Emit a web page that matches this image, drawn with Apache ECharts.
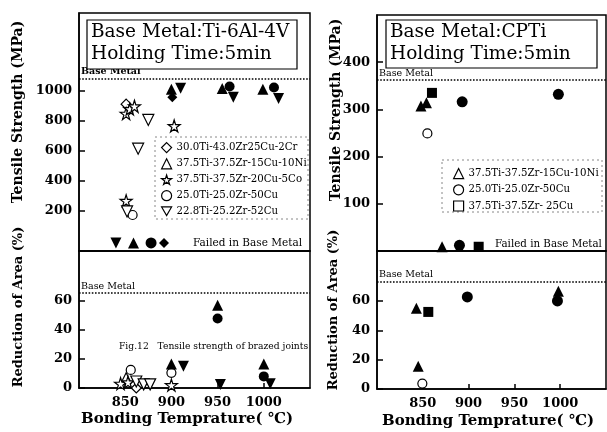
<!DOCTYPE html>
<html><head><meta charset="utf-8">
<script src="https://cdn.jsdelivr.net/npm/echarts@6/dist/echarts.min.js"></script>
<style>html,body{margin:0;padding:0;background:#fff}#c{width:607px;height:432px}</style>
</head><body><div id="c"></div>
<script>
// ---- tick labels ----
const xTicks = [850, 900, 950, 1000];
const tsTicksL = [200, 400, 600, 800, 1000];
const tsTicksR = [100, 200, 300, 400];
const raTicks = [0, 20, 40, 60];

// ---- legend names ----
const alloyCr = '30.0Ti-43.0Zr25Cu-2Cr';
const alloyNi = '37.5Ti-37.5Zr-15Cu-10Ni';
const alloyCo = '37.5Ti-37.5Zr-20Cu-5Co';
const alloyCu50 = '25.0Ti-25.0Zr-50Cu';
const alloyCu52 = '22.8Ti-25.2Zr-52Cu';
const alloyCu25 = '37.5Ti-37.5Zr- 25Cu';
const legendLeft = [alloyCr, alloyNi, alloyCo, alloyCu50, alloyCu52];
const legendRight = [alloyNi, alloyCu50, alloyCu25];

// ---- base metal levels ----
const baseTS_L = 1080, baseRA_L = 65.5, baseTS_R = 362, baseRA_R = 73;

// ---- Ti-6Al-4V: tensile strength (open = failed in joint) ----
const tsL_Cr = [[851, 912]];
const tsL_Ni = [];
const tsL_Co = [[851, 849], [855, 880], [860, 898], [903, 767], [851, 268]];
const tsL_Cu50 = [[858, 173]];
const tsL_Cu52 = [[875, 807], [864, 615], [852, 197]];
// filled = failed in base metal
const tsL_NiF = [[900, 1012], [955, 1016], [999, 1012]];
const tsL_Cu50F = [[963, 1030], [1011, 1023]];
const tsL_Cu52F = [[910, 1018], [967, 958], [1016, 950]];
const tsL_CrF = [[901, 958]];
// key row "Failed in Base Metal"
const keyL_tdown = [[840, -13]];
const keyL_tri = [[859, -13]];
const keyL_circ = [[878, -13]];
const keyL_diam = [[892, -13]];

// ---- Ti-6Al-4V: reduction of area ----
const raL_Cr = [[862, 0]];
const raL_Ni = [[851, 7]];
const raL_Co = [[845, 3], [853, 4], [900, 2]];
const raL_Cu50 = [[856, 12.5], [900, 10.5]];
const raL_Cu52 = [[862, 4.5], [870, 2.5], [877, 2.5]];
const raL_NiF = [[900, 16.5], [950, 57], [1000, 16.5]];
const raL_Cu50F = [[950, 48], [1000, 8]];
const raL_Cu52F = [[913, 15], [953, 2.5], [1007, 3]];

// ---- CPTi: tensile strength ----
const tsR_Cu50 = [[855, 249]];
const tsR_NiF = [[848, 307], [854, 314]];
const tsR_Cu50F = [[893, 316], [998, 332]];
const tsR_Cu25F = [[860, 335]];
const keyR_tri = [[871, 9]];
const keyR_circ = [[890, 12]];
const keyR_rect = [[911, 9]];

// ---- CPTi: reduction of area ----
const raR_Cu50 = [[849.5, 3.7]];
const raR_NiF = [[843, 55], [845, 15.5], [998, 66.5]];
const raR_Cu25F = [[856, 52.5]];
const raR_Cu50F = [[898.6, 62.7], [997, 60]];

const STAR = 'path://M50,0L61,35L98,35L68,57L79,91L50,70L21,91L32,57L2,35L39,35Z';
const TDOWN = 'path://M0,0L100,0L50,87Z';
const SERIF = '"DejaVu Serif", "Liberation Serif", serif';
const BSERIF = '"DejaVu Serif", serif';

function mk(name, symbol, open, data, gi, size) {
  return {
    type: 'scatter', name: name, xAxisIndex: gi, yAxisIndex: gi, data: data,
    symbol: symbol, symbolSize: size, clip: false, z: 5,
    itemStyle: open ? { color: '#fff', borderColor: '#000', borderWidth: 1.2, opacity: 1 }
                    : { color: '#000', borderColor: '#000', borderWidth: 0, opacity: 1 },
    emphasis: { disabled: true }
  };
}
function baseLine(gi, v) {
  return {
    type: 'scatter', name: 'base' + gi, xAxisIndex: gi, yAxisIndex: gi, data: [],
    markLine: {
      silent: true, symbol: 'none',
      lineStyle: { type: 'dotted', color: '#000', width: 1.6 },
      label: { show: true, position: 'insideStartTop', formatter: 'Base Metal', distance: 2,
        color: '#000', fontFamily: SERIF, fontSize: 9.5, fontWeight: gi === 0 ? 'bold' : 'normal' },
      data: [{ yAxis: v }]
    }
  };
}

const grids = [
  { left: 79, top: 13, width: 231, height: 238 },
  { left: 79, top: 251, width: 231, height: 137 },
  { left: 377, top: 15, width: 229, height: 236 },
  { left: 377, top: 251, width: 229, height: 138 }
].map(g => Object.assign({ show: true, borderColor: '#000', borderWidth: 1.5,
  backgroundColor: 'transparent', containLabel: false, outerBoundsMode: 'none' }, g));

const plain = v => String(v);
function xAx(gi, labels) {
  return {
    type: 'value', gridIndex: gi, min: 800, max: 1050,
    axisLine: { show: true, onZero: false, lineStyle: { color: '#000', width: 1.5 } },
    axisTick: { show: labels, inside: true, length: 5, customValues: xTicks, lineStyle: { color: '#000', width: 1.5 } },
    axisLabel: { show: labels, customValues: xTicks, formatter: plain, margin: 8, color: '#000',
      fontFamily: BSERIF, fontWeight: 'bold', fontSize: 13 },
    splitLine: { show: false }
  };
}
function yAx(gi, min, max, ticks) {
  return {
    type: 'value', gridIndex: gi, min: min, max: max,
    axisLine: { show: true, onZero: false, lineStyle: { color: '#000', width: 1.5 } },
    axisTick: { show: true, inside: true, length: 6, customValues: ticks, lineStyle: { color: '#000', width: 1.5 } },
    axisLabel: { show: true, customValues: ticks, formatter: plain, margin: 7, color: '#000',
      fontFamily: BSERIF, fontWeight: 'bold', fontSize: 13 },
    splitLine: { show: false }
  };
}

const series = [
  baseLine(0, baseTS_L), baseLine(1, baseRA_L), baseLine(2, baseTS_R), baseLine(3, baseRA_R),
  // left top
  mk(alloyCr, 'diamond', true, tsL_Cr, 0, 10),
  mk(alloyNi, 'triangle', true, tsL_Ni, 0, 10),
  mk(alloyCo, STAR, true, tsL_Co, 0, 12),
  mk(alloyCu50, 'circle', true, tsL_Cu50, 0, 9),
  mk(alloyCu52, TDOWN, true, tsL_Cu52, 0, 11),
  mk('fNi', 'triangle', false, tsL_NiF, 0, 11),
  mk('fCu50', 'circle', false, tsL_Cu50F, 0, 10),
  mk('fCu52', TDOWN, false, tsL_Cu52F, 0, 11),
  mk('fCr', 'diamond', false, tsL_CrF, 0, 10),
  mk('kTd', TDOWN, false, keyL_tdown, 0, 11),
  mk('kTri', 'triangle', false, keyL_tri, 0, 11),
  mk('kCirc', 'circle', false, keyL_circ, 0, 11),
  mk('kDiam', 'diamond', false, keyL_diam, 0, 10),
  // left bottom
  mk(alloyCr, 'diamond', true, raL_Cr, 1, 10),
  mk(alloyNi, 'triangle', true, raL_Ni, 1, 10),
  mk(alloyCo, STAR, true, raL_Co, 1, 12),
  mk(alloyCu50, 'circle', true, raL_Cu50, 1, 9),
  mk(alloyCu52, TDOWN, true, raL_Cu52, 1, 11),
  mk('fNi', 'triangle', false, raL_NiF, 1, 11),
  mk('fCu50', 'circle', false, raL_Cu50F, 1, 10),
  mk('fCu52', TDOWN, false, raL_Cu52F, 1, 11),
  // right top
  mk(alloyNi, 'triangle', true, [], 2, 10),
  mk(alloyCu50, 'circle', true, tsR_Cu50, 2, 9),
  mk(alloyCu25, 'rect', true, [], 2, 9),
  mk('fNi', 'triangle', false, tsR_NiF, 2, 11),
  mk('fCu50', 'circle', false, tsR_Cu50F, 2, 11),
  mk('fCu25', 'rect', false, tsR_Cu25F, 2, 10),
  mk('kTri', 'triangle', false, keyR_tri, 2, 11),
  mk('kCirc', 'circle', false, keyR_circ, 2, 11),
  mk('kRect', 'rect', false, keyR_rect, 2, 10),
  // right bottom
  mk(alloyCu50, 'circle', true, raR_Cu50, 3, 9),
  mk('fNi', 'triangle', false, raR_NiF, 3, 11),
  mk('fCu25', 'rect', false, raR_Cu25F, 3, 10),
  mk('fCu50', 'circle', false, raR_Cu50F, 3, 11)
];

function txt(x, y, s, font, rot, align) {
  return { type: 'text', x: x, y: y, rotation: rot || 0, z: 20,
    style: { text: s, font: font, fill: '#000', align: align || 'left', verticalAlign: 'middle',
      textAlign: align || 'left', textVerticalAlign: 'middle' } };
}
const boxFont = '18.5px ' + SERIF;
const titleFont = 'bold 14px ' + BSERIF;
const graphic = [
  { type: 'rect', z: 15, shape: { x: 87, y: 20, width: 210, height: 49 }, style: { fill: '#fff', stroke: '#000', lineWidth: 1.2 } },
  txt(91, 32, 'Base Metal:Ti-6Al-4V', boxFont),
  txt(91, 54, 'Holding Time:5min', boxFont),
  { type: 'rect', z: 15, shape: { x: 386, y: 20, width: 211, height: 48 }, style: { fill: '#fff', stroke: '#000', lineWidth: 1.2 } },
  txt(390, 32, 'Base Metal:CPTi', boxFont),
  txt(390, 54, 'Holding Time:5min', boxFont),
  { type: 'rect', z: 1, shape: { x: 155, y: 137, width: 153, height: 82 }, style: { fill: 'none', stroke: '#888', lineWidth: 1, lineDash: [2, 3] } },
  { type: 'rect', z: 1, shape: { x: 442, y: 160, width: 160, height: 52 }, style: { fill: 'none', stroke: '#888', lineWidth: 1, lineDash: [2, 3] } },
  txt(193, 243, 'Failed in Base Metal', '10.5px ' + SERIF),
  txt(495, 244, 'Failed in Base Metal', '10.3px ' + SERIF),
  txt(119, 347, 'Fig.12   Tensile strength of brazed joints', '9.2px ' + SERIF),
  txt(18, 112, 'Tensile Strength (MPa)', titleFont, Math.PI / 2, 'center'),
  txt(19, 307, 'Reduction of Area (%)', 'bold 13px ' + BSERIF, Math.PI / 2, 'center'),
  txt(336, 110, 'Tensile Strength (MPa)', titleFont, Math.PI / 2, 'center'),
  txt(334, 310, 'Reduction of Area (%)', 'bold 13px ' + BSERIF, Math.PI / 2, 'center'),
  txt(187, 419, 'Bonding Temprature( \u2103)', 'bold 15px ' + BSERIF, 0, 'center'),
  txt(488, 421, 'Bonding Temprature( \u2103)', 'bold 15px ' + BSERIF, 0, 'center')
];

const legendCommon = {
  orient: 'vertical', itemWidth: 10, itemHeight: 10, itemGap: 5, selectedMode: false,
  itemStyle: { color: '#fff', borderColor: '#000', borderWidth: 1.2 },
  textStyle: { fontFamily: SERIF, fontSize: 10.2, color: '#000' }, z: 10
};

const option = {
  animation: false,
  backgroundColor: '#fff',
  grid: grids,
  xAxis: [xAx(0, false), xAx(1, true), xAx(2, false), xAx(3, true)],
  yAxis: [yAx(0, -67, 1520, tsTicksL), yAx(1, 0, 94.5, raTicks), yAx(2, 0, 500, tsTicksR), yAx(3, 0, 94, raTicks)],
  legend: [
    Object.assign({ left: 156, top: 137, data: legendLeft }, legendCommon),
    Object.assign({ left: 448, top: 163, data: legendRight }, legendCommon)
  ],
  graphic: graphic,
  series: series
};
const chart = echarts.init(document.getElementById('c'), null, { renderer: 'canvas' });
chart.setOption(option);
</script></body></html>
